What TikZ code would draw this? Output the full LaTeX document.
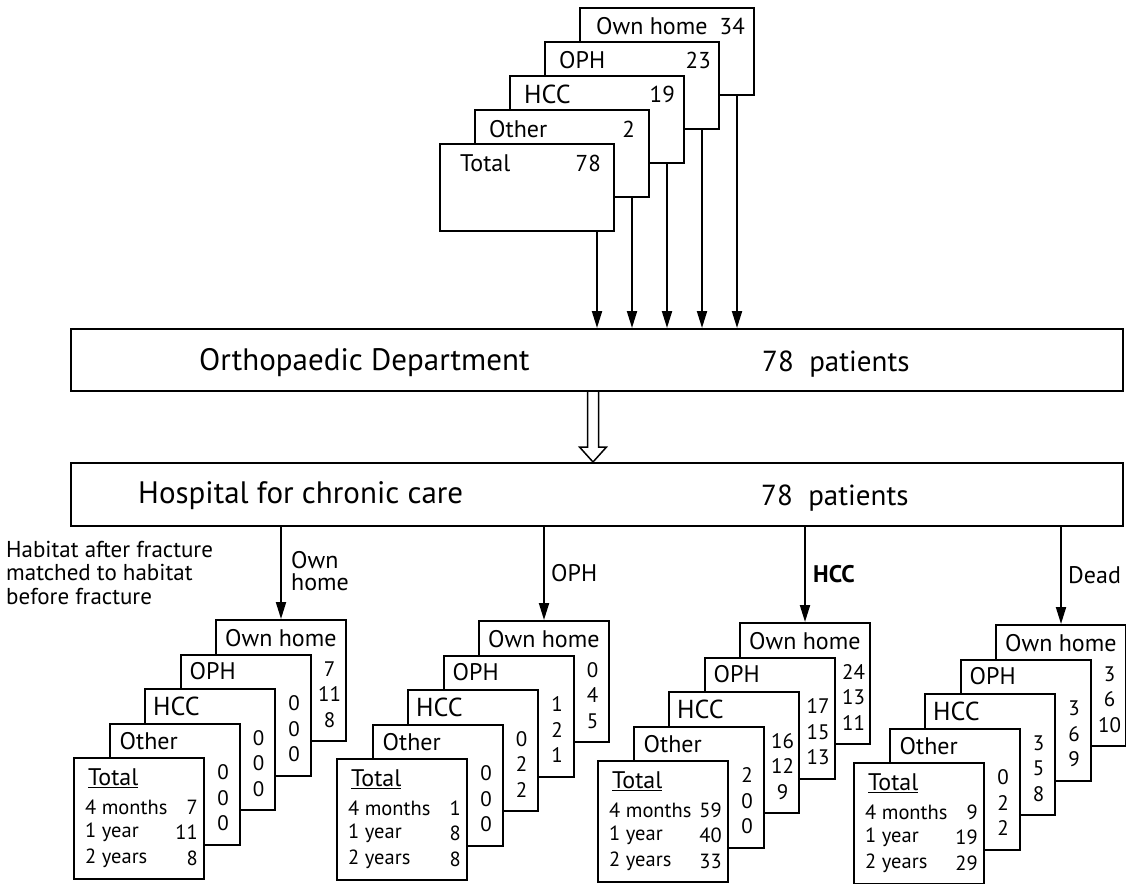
\documentclass[tikz,border=0pt]{standalone}
\usepackage{fontspec}
\setmainfont{PT Sans}
\usetikzlibrary{arrows.meta,calc}
\tikzset{
  tbox/.style={draw, fill=white, line width=2pt, minimum width=174pt, minimum height=87pt, anchor=north west, inner sep=0pt},
  sbox/.style={draw, fill=white, line width=2pt, minimum width=130pt, minimum height=121pt, anchor=north west, inner sep=0pt},
  bigbox/.style={draw, fill=white, line width=2pt, minimum width=1052pt, anchor=north west, inner sep=0pt},
  lab/.style={anchor=west, inner sep=0pt, font=\fontsize{24}{24}\selectfont},
  hlab/.style={anchor=west, inner sep=0pt, font=\fontsize{26}{26}\selectfont},
  tnum/.style={anchor=east, inner sep=0pt, font=\fontsize{23}{23}\selectfont},
  snum/.style={inner sep=0pt, font=\fontsize{21}{21}\selectfont},
  srow/.style={inner sep=0pt, font=\fontsize{20.5}{20.5}\selectfont},
  bigtxt/.style={anchor=base west, inner sep=0pt, font=\fontsize{31}{31}\selectfont},
  numtxt/.style={anchor=base west, inner sep=0pt, font=\fontsize{29}{29}\selectfont},
  side/.style={anchor=north west, inner sep=0pt, align=left},
  alab/.style={anchor=base west, inner sep=0pt, font=\fontsize{24}{24}\selectfont},
  arr/.style={line width=2pt, -{Triangle[length=17pt,width=10pt]}},
}
\newcommand\mystack[8]{%
  % #1 prefix, #2 left of Total box, #3 top of Total box
  \node[sbox] (#1oh) at (#2+142,#3-138) {};
  \node[lab] (#1ohl) at ($(#1oh.north west)+(10,19)$) {Own home};
  \foreach \v [count=\k] in {#4} \node[snum] (#1ohn\k) at ($(#1oh.north east)+(-17.5,24.5+25.5*\k)$) {\v};
  \node[sbox] (#1op) at (#2+106.5,#3-103.5) {};
  \node[lab] (#1opl) at ($(#1op.north west)+(10,18)$) {OPH};
  \foreach \v [count=\k] in {#5} \node[snum] (#1opn\k) at ($(#1op.north east)+(-17.5,24.5+25.5*\k)$) {\v};
  \node[sbox] (#1hc) at (#2+71,#3-69) {};
  \node[hlab] (#1hcl) at ($(#1hc.north west)+(9,18)$) {HCC};
  \foreach \v [count=\k] in {#6} \node[snum] (#1hcn\k) at ($(#1hc.north east)+(-17.5,24.5+25.5*\k)$) {\v};
  \node[sbox] (#1ot) at (#2+35.5,#3-34.5) {};
  \node[lab] (#1otl) at ($(#1ot.north west)+(11,19)$) {Other};
  \foreach \v [count=\k] in {#7} \node[snum] (#1otn\k) at ($(#1ot.north east)+(-17.5,24.5+25.5*\k)$) {\v};
  \node[sbox] (#1to) at (#2,#3) {};
  \node[lab] (#1tol) at ($(#1to.north west)+(15,21)$) {\underline{Total}};
  \foreach \r [count=\k] in {4 months,1 year,2 years} \node[srow, anchor=west] (#1tor\k) at ($(#1to.north west)+(12,24.5+25.5*\k)$) {\r};
  \foreach \v [count=\k] in {#8} \node[srow, anchor=east] (#1tov\k) at ($(#1to.north east)+(-7,24.5+25.5*\k)$) {\v};
}
\begin{document}
\begin{tikzpicture}[x=1pt,y=-1pt]
\useasboundingbox (0,0) rectangle (1126,883);

% top stack
\node[tbox] (t4) at (579,7) {};
\node[lab] (t4l) at ($(t4.north west)+(17,19)$) {Own home};
\node[tnum] (t4n) at ($(t4.north east)+(-10,19)$) {34};
\node[tbox] (t3) at (544,41) {};
\node[lab] (t3l) at ($(t3.north west)+(15,19)$) {OPH};
\node[tnum] (t3n) at ($(t3.north east)+(-9,19)$) {23};
\node[tbox] (t2) at (509,75) {};
\node[hlab] (t2l) at ($(t2.north west)+(15,19)$) {HCC};
\node[tnum] (t2n) at ($(t2.north east)+(-10,19)$) {19};
\node[tbox] (t1) at (474,109) {};
\node[lab] (t1l) at ($(t1.north west)+(15,20)$) {Other};
\node[tnum] (t1n) at ($(t1.north east)+(-15,20)$) {2};
\node[tbox] (t0) at (439,143) {};
\node[lab] (t0l) at ($(t0.north west)+(21,20)$) {Total};
\node[tnum] (t0n) at ($(t0.north east)+(-14,20)$) {78};

% orthopaedic department
\node[bigbox, minimum height=62pt] (ortho) at (70,328) {};
\node[bigtxt] (orthol) at (199,370) {Orthopaedic Department};
\node[numtxt] (orthon) at (762,371) {78\ \ patients};

\foreach \b in {0,...,4} {
  \coordinate (a\b) at ($(t\b.south east)+(-18,0)$);
  \draw[arr] (a\b) -- (a\b |- ortho.north);
}

% hospital for chronic care
\node[bigbox, minimum height=63pt] (hosp) at (70,462) {};
\node[bigtxt] (hospl) at (138,503) {Hospital for chronic care};
\node[numtxt] (hospn) at (761,505) {78\ \ patients};

% hollow arrow
\coordinate (faS) at ($(ortho.south)+(-4,0)$);
\coordinate (faE) at ($(hosp.north)+(-4,0)$);
\draw[line width=1.5pt, fill=white, line join=miter]
  ($(faS)+(-5.5,0)$) -- ($(faE)+(-5.5,-15)$) -- ($(faE)+(-13.5,-15)$) -- (faE)
  -- ($(faE)+(13.5,-15)$) -- ($(faE)+(5.5,-15)$) -- ($(faS)+(5.5,0)$);

% side text
\node[side, font=\fontsize{23}{23.5}\selectfont] (habitat) at (6,541) {Habitat after fracture\\matched to habitat\\before fracture};

% bottom stacks
\mystack{a}{73}{757}{7,11,8}{0,0,0}{0,0,0}{0,0,0}{7,11,8}
\mystack{b}{336}{758}{0,4,5}{1,2,1}{0,2,2}{0,0,0}{1,8,8}
\mystack{c}{597}{760}{24,13,11}{17,15,13}{16,12,9}{2,0,0}{59,40,33}
\mystack{d}{853}{762}{3,6,10}{3,6,9}{3,5,8}{0,2,2}{9,19,29}

% arrows to stacks
\draw[arr] (hosp.south -| aoh.north) -- (aoh.north);
\draw[arr] (hosp.south -| boh.north) -- (boh.north);
\draw[arr] (hosp.south -| coh.north) -- (coh.north);
\draw[arr] (hosp.south -| doh.north) -- (doh.north);

\node[side, font=\fontsize{24}{22.5}\selectfont] (lown) at (291,551) {Own\\home};
\node[alab] (loph) at (551,581) {OPH};
\node[alab, font=\fontsize{24}{24}\bfseries] (lhcc) at (813,582) {HCC};
\node[alab] (ldead) at (1068,583) {Dead};
\end{tikzpicture}
\end{document}
